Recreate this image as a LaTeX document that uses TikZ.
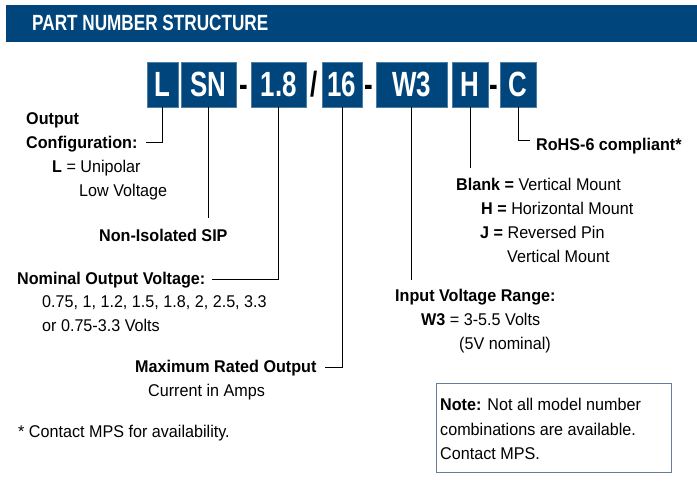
\documentclass[tikz,border=0pt]{standalone}
\usepackage{fontspec}
\setmainfont{Liberation Sans}[FakeStretch=0.95]
\newfontfamily\boxfont{Liberation Sans}[FakeStretch=0.74]
\newfontfamily\headfont{Liberation Sans}[FakeStretch=0.78]
\definecolor{mpsblue}{RGB}{0,70,125}
\definecolor{noteframe}{RGB}{105,125,155}
\begin{document}
\begin{tikzpicture}[x=1pt,y=-1pt,
  txt/.style={anchor=base west, inner sep=0pt, font=\fontsize{17}{24}\selectfont},
  btxt/.style={anchor=base west, inner sep=0pt, font=\fontsize{17}{24}\selectfont\bfseries},
  pbox/.style={fill=mpsblue, draw=mpsblue!70, line width=0.6pt, text=white, minimum height=45pt, inner sep=0pt, font=\boxfont\bfseries\fontsize{35}{35}\selectfont},
  sepchar/.style={anchor=base, inner sep=0pt, font=\boxfont\bfseries\fontsize{35}{35}\selectfont},
  conn/.style={draw=black, line width=0.9pt}]
\useasboundingbox (0,0) rectangle (697,502);
% header
\node[fill=mpsblue, anchor=north west, minimum width=691pt, minimum height=37pt, inner sep=0pt] (bar) at (6,5) {};
\node[anchor=base west, inner sep=0pt, text=white, font=\headfont\bfseries\fontsize{22}{22}\selectfont] (title) at (32,31) {PART NUMBER STRUCTURE};
% part number boxes
\node[pbox, minimum width=31pt] (bL) at (162.5,84.5) {L};
\node[pbox, minimum width=55pt] (bSN) at (208.5,84.5) {SN};
\node[sepchar] (d1) at (243.5,97) {-};
\node[pbox, minimum width=54.5pt] (b18) at (278.75,84.5) {1.8};
\node[sepchar] (sl) at (314.5,97) {/};
\node[pbox, minimum width=40pt] (b16) at (342,84.5) {16};
\node[sepchar] (d2) at (369,97) {-};
\node[pbox, minimum width=71pt] (bW3) at (411.5,84.5) {W3};
\node[pbox, minimum width=36pt] (bH) at (470,84.5) {H};
\node[sepchar] (d3) at (494,97) {-};
\node[pbox, minimum width=36pt] (bC) at (518,84.5) {C};
% labels
\node[btxt] (oc1) at (26,125) {Output};
\node[btxt] (oc2) at (26,149) {Configuration:};
\node[txt] (oc3) at (52,173) {\textbf{L} = Unipolar};
\node[txt] (oc4) at (79,197) {Low Voltage};
\node[btxt] (nis) at (99,242) {Non-Isolated SIP};
\node[btxt] (nov1) at (17,285) {Nominal Output Voltage:};
\node[txt] (nov2) at (42,308) {0.75, 1, 1.2, 1.5, 1.8, 2, 2.5, 3.3};
\node[txt] (nov3) at (42,332) {or 0.75-3.3 Volts};
\node[btxt] (mro1) at (135,373) {Maximum Rated Output};
\node[txt] (mro2) at (148,397) {Current in Amps};
\node[txt] (foot) at (18,438) {* Contact MPS for availability.};
\node[btxt] (ivr1) at (395,302) {Input Voltage Range:};
\node[txt] (ivr2) at (421,326) {\textbf{W3} = 3-5.5 Volts};
\node[txt] (ivr3) at (459,350) {(5V nominal)};
\node[txt] (mt1) at (456,191) {\textbf{Blank =} Vertical Mount};
\node[txt] (mt2) at (481,215) {\textbf{H =} Horizontal Mount};
\node[txt] (mt3) at (480,239) {\textbf{J =} Reversed Pin};
\node[txt] (mt4) at (507,263) {Vertical Mount};
\node[btxt] (rohs) at (536,151) {RoHS-6 compliant*};
% note box
\node[draw=noteframe, line width=1pt, anchor=north west, minimum width=235pt, minimum height=89pt, inner sep=0pt] (note) at (436,383) {};
\node[txt] (n1) at (440,411) {\textbf{Note:} Not all model number};
\node[txt] (n2) at (440,435.5) {combinations are available.};
\node[txt] (n3) at (440,460) {Contact MPS.};
% connectors
\coordinate (eL) at (146,142);
\coordinate (eSN) at (208.5,218);
\coordinate (e18) at (212,279);
\coordinate (e16) at (325,367);
\coordinate (eW3) at (411.5,280);
\coordinate (eH) at (470,168);
\coordinate (eC) at (530,140);
\draw[conn] (bL.south) |- (eL);
\draw[conn] (bSN.south) -- (eSN);
\draw[conn] (b18.south) |- (e18);
\draw[conn] (b16.south) |- (e16);
\draw[conn] (bW3.south) -- (eW3);
\draw[conn] (bH.south) -- (eH);
\draw[conn] (bC.south) |- (eC);
\end{tikzpicture}
\end{document}
